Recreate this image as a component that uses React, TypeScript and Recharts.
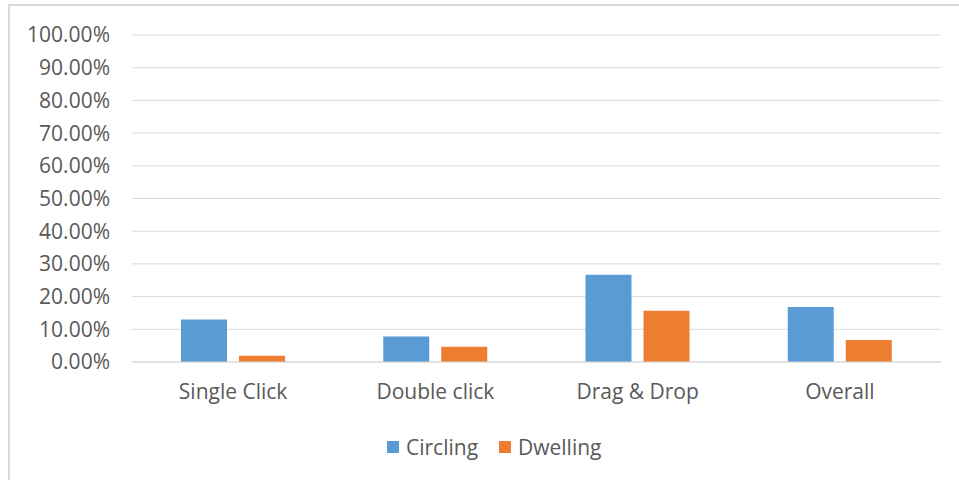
import { BarChart, Bar, XAxis, YAxis, CartesianGrid } from 'recharts'

const categories = ['Single Click', 'Double click', 'Drag & Drop', 'Overall']
const circling = [0.13, 0.078, 0.267, 0.168]
const dwelling = [0.019, 0.047, 0.157, 0.067]
const yTicks = [0, 0.1, 0.2, 0.3, 0.4, 0.5, 0.6, 0.7, 0.8, 0.9, 1]

const data = categories.map((name, i) => ({ name, Circling: circling[i], Dwelling: dwelling[i] }))

const FONT = '"Open Sans", sans-serif'
const TEXT = '#595959'
const BLUE = '#5B9BD5'
const ORANGE = '#ED7D31'

const legendItems = [
  { label: 'Circling', color: BLUE, left: 387 },
  { label: 'Dwelling', color: ORANGE, left: 499 },
]

export default function App() {
  return (
    <div style={{ position: 'fixed', left: 0, top: 0, width: 959, height: 480, background: '#fff', overflow: 'hidden' }}>
      <BarChart
        width={959}
        height={480}
        data={data}
        margin={{ top: 35, right: 18, left: 0, bottom: 88 }}
        barSize={46}
        barGap={12}
        style={{ position: 'absolute', left: 0, top: 0 }}
      >
        <CartesianGrid vertical={false} stroke="#d9d9d9" />
        <XAxis
          dataKey="name"
          height={30}
          axisLine={{ stroke: '#d9d9d9' }}
          tickLine={false}
          tickMargin={16}
          tick={{ fill: TEXT, fontSize: 21, fontFamily: FONT }}
        />
        <YAxis
          width={132}
          domain={[0, 1]}
          ticks={yTicks}
          interval={0}
          axisLine={false}
          tickLine={false}
          tickMargin={16}
          tickFormatter={(v: number) => `${(v * 100).toFixed(2)}%`}
          tick={{ fill: TEXT, fontSize: 21, fontFamily: FONT }}
        />
        <Bar dataKey="Circling" fill={BLUE} isAnimationActive={false} />
        <Bar dataKey="Dwelling" fill={ORANGE} isAnimationActive={false} />
      </BarChart>
      {legendItems.map((it) => (
        <div
          key={it.label}
          style={{
            position: 'absolute',
            left: it.left,
            top: 433,
            display: 'flex',
            alignItems: 'center',
            gap: 7,
            fontFamily: FONT,
            fontSize: 21,
            color: TEXT,
          }}
        >
          <span style={{ width: 12, height: 12, background: it.color, display: 'inline-block' }} />
          <span>{it.label}</span>
        </div>
      ))}
      <div
        style={{
          position: 'absolute',
          left: 8,
          top: 4,
          width: 980,
          height: 500,
          border: '2px solid #d9d9d9',
          boxSizing: 'border-box',
          pointerEvents: 'none',
        }}
      />
    </div>
  )
}
